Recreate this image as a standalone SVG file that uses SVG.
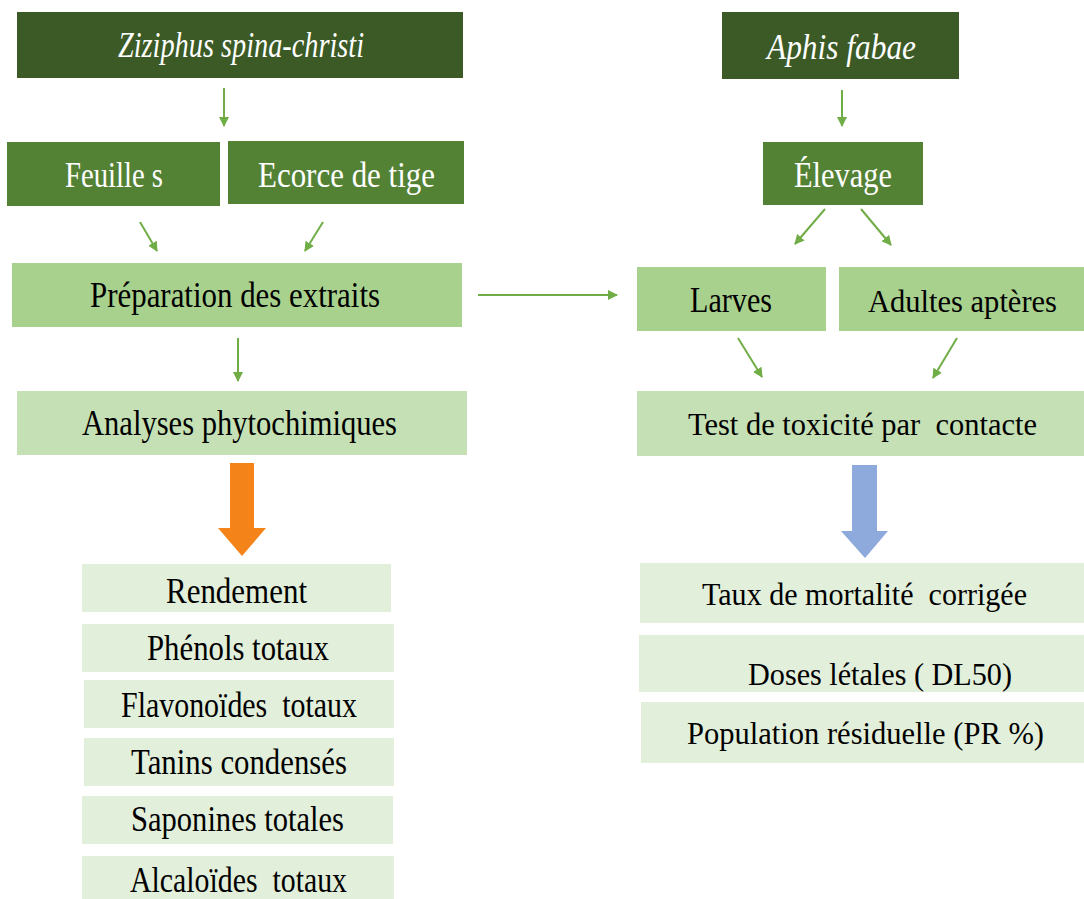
<svg xmlns="http://www.w3.org/2000/svg" width="1084" height="899" viewBox="0 0 1084 899">
<defs>
<style>
.t{font-family:"Liberation Serif","Times New Roman",serif;font-size:36px;text-anchor:start;white-space:pre}
.s{font-size:31px}
.w{fill:#ffffff}
.k{fill:#000000}
.i{font-style:italic}
.dk{fill:#3B5A25}
.md{fill:#548235}
.lg{fill:#A9D18E}
.lg2{fill:#C5E0B4}
.lg3{fill:#E2EFDA}
.c{stroke:#70AD47;stroke-width:2;fill:none;marker-end:url(#ah)}
</style>
<marker id="ah" viewBox="0 0 10 10" refX="9" refY="5" markerWidth="5" markerHeight="5" markerUnits="strokeWidth" orient="auto">
<path d="M0,0 L10,5 L0,10 z" fill="#70AD47"/>
</marker>
</defs>
<rect width="1084" height="899" fill="#ffffff"/>

<g id="ziziphus"><rect class="dk" x="17" y="12" width="446" height="66"/><text class="t w i" x="118" y="57" textLength="246" lengthAdjust="spacingAndGlyphs">Ziziphus spina-christi</text></g>
<g id="feuilles"><rect class="md" x="7" y="142" width="213" height="64"/><text class="t w" x="65" y="187" textLength="98" lengthAdjust="spacingAndGlyphs">Feuille s</text></g>
<g id="ecorce"><rect class="md" x="228" y="141" width="236" height="63"/><text class="t w" x="258" y="187" textLength="177" lengthAdjust="spacingAndGlyphs">Ecorce de tige</text></g>
<g id="preparation"><rect class="lg" x="12" y="263" width="450" height="64"/><text class="t k" x="90" y="307" textLength="290" lengthAdjust="spacingAndGlyphs">Préparation des extraits</text></g>
<g id="analyses"><rect class="lg2" x="17" y="391" width="450" height="64"/><text class="t k" x="82" y="435" textLength="315" lengthAdjust="spacingAndGlyphs">Analyses phytochimiques</text></g>
<g id="rendement"><rect class="lg3" x="82" y="564" width="309" height="48"/><text class="t k" x="166" y="603" textLength="141" lengthAdjust="spacingAndGlyphs">Rendement</text></g>
<g id="phenols"><rect class="lg3" x="82" y="624" width="312" height="48"/><text class="t k" x="147" y="660" textLength="182" lengthAdjust="spacingAndGlyphs">Phénols totaux</text></g>
<g id="flavonoides"><rect class="lg3" x="84" y="680" width="310" height="48"/><text class="t k" x="121" y="717" textLength="236" lengthAdjust="spacingAndGlyphs">Flavonoïdes  totaux</text></g>
<g id="tanins"><rect class="lg3" x="84" y="738" width="310" height="48"/><text class="t k" x="131" y="774" textLength="216" lengthAdjust="spacingAndGlyphs">Tanins condensés</text></g>
<g id="saponines"><rect class="lg3" x="82" y="796" width="311" height="48"/><text class="t k" x="131" y="831" textLength="213" lengthAdjust="spacingAndGlyphs">Saponines totales</text></g>
<g id="alcaloides"><rect class="lg3" x="82" y="856" width="312" height="43"/><text class="t k" x="130" y="892" textLength="217" lengthAdjust="spacingAndGlyphs">Alcaloïdes  totaux</text></g>

<g id="aphis"><rect class="dk" x="722" y="12" width="237" height="67"/><text class="t w i" x="767" y="59" textLength="149" lengthAdjust="spacingAndGlyphs">Aphis fabae</text></g>
<g id="elevage"><rect class="md" x="763" y="142" width="160" height="63"/><text class="t w" x="794" y="187" textLength="98" lengthAdjust="spacingAndGlyphs">Élevage</text></g>
<g id="larves"><rect class="lg" x="637" y="267" width="189" height="64"/><text class="t k" x="690" y="312" textLength="82" lengthAdjust="spacingAndGlyphs">Larves</text></g>
<g id="adultes"><rect class="lg" x="839" y="267" width="245" height="64"/><text class="t s k" x="868" y="312" textLength="189" lengthAdjust="spacingAndGlyphs">Adultes aptères</text></g>
<g id="test"><rect class="lg2" x="637" y="391" width="447" height="65"/><text class="t s k" x="688" y="435" textLength="349" lengthAdjust="spacingAndGlyphs">Test de toxicité par  contacte</text></g>
<g id="taux"><rect class="lg3" x="640" y="563" width="444" height="60"/><text class="t s k" x="702" y="605" textLength="325" lengthAdjust="spacingAndGlyphs">Taux de mortalité  corrigée</text></g>
<g id="doses"><rect class="lg3" x="639" y="635" width="445" height="57"/><text class="t s k" x="748" y="685" textLength="264" lengthAdjust="spacingAndGlyphs">Doses létales ( DL50)</text></g>
<g id="population"><rect class="lg3" x="641" y="702" width="443" height="61"/><text class="t s k" x="687" y="744" textLength="357" lengthAdjust="spacingAndGlyphs">Population résiduelle (PR %)</text></g>

<g id="connectors">
<line class="c" x1="224" y1="88" x2="224" y2="126"/>
<line class="c" x1="140" y1="222" x2="157" y2="251"/>
<line class="c" x1="323" y1="222" x2="305" y2="251"/>
<line class="c" x1="478" y1="295" x2="617" y2="295"/>
<line class="c" x1="238" y1="338" x2="238" y2="381"/>
<line class="c" x1="842" y1="90" x2="842" y2="126"/>
<line class="c" x1="825" y1="209" x2="795" y2="244"/>
<line class="c" x1="861" y1="209" x2="891" y2="245"/>
<line class="c" x1="738" y1="338" x2="762" y2="377"/>
<line class="c" x1="957" y1="338" x2="933" y2="378"/>
<polygon points="230,463 254,463 254,528 266,528 242,556 218,528 230,528" fill="#F4841A"/>
<polygon points="852,465 877,465 877,531 888,531 865,558 841,531 852,531" fill="#8EA9DB"/>
</g>
</svg>
